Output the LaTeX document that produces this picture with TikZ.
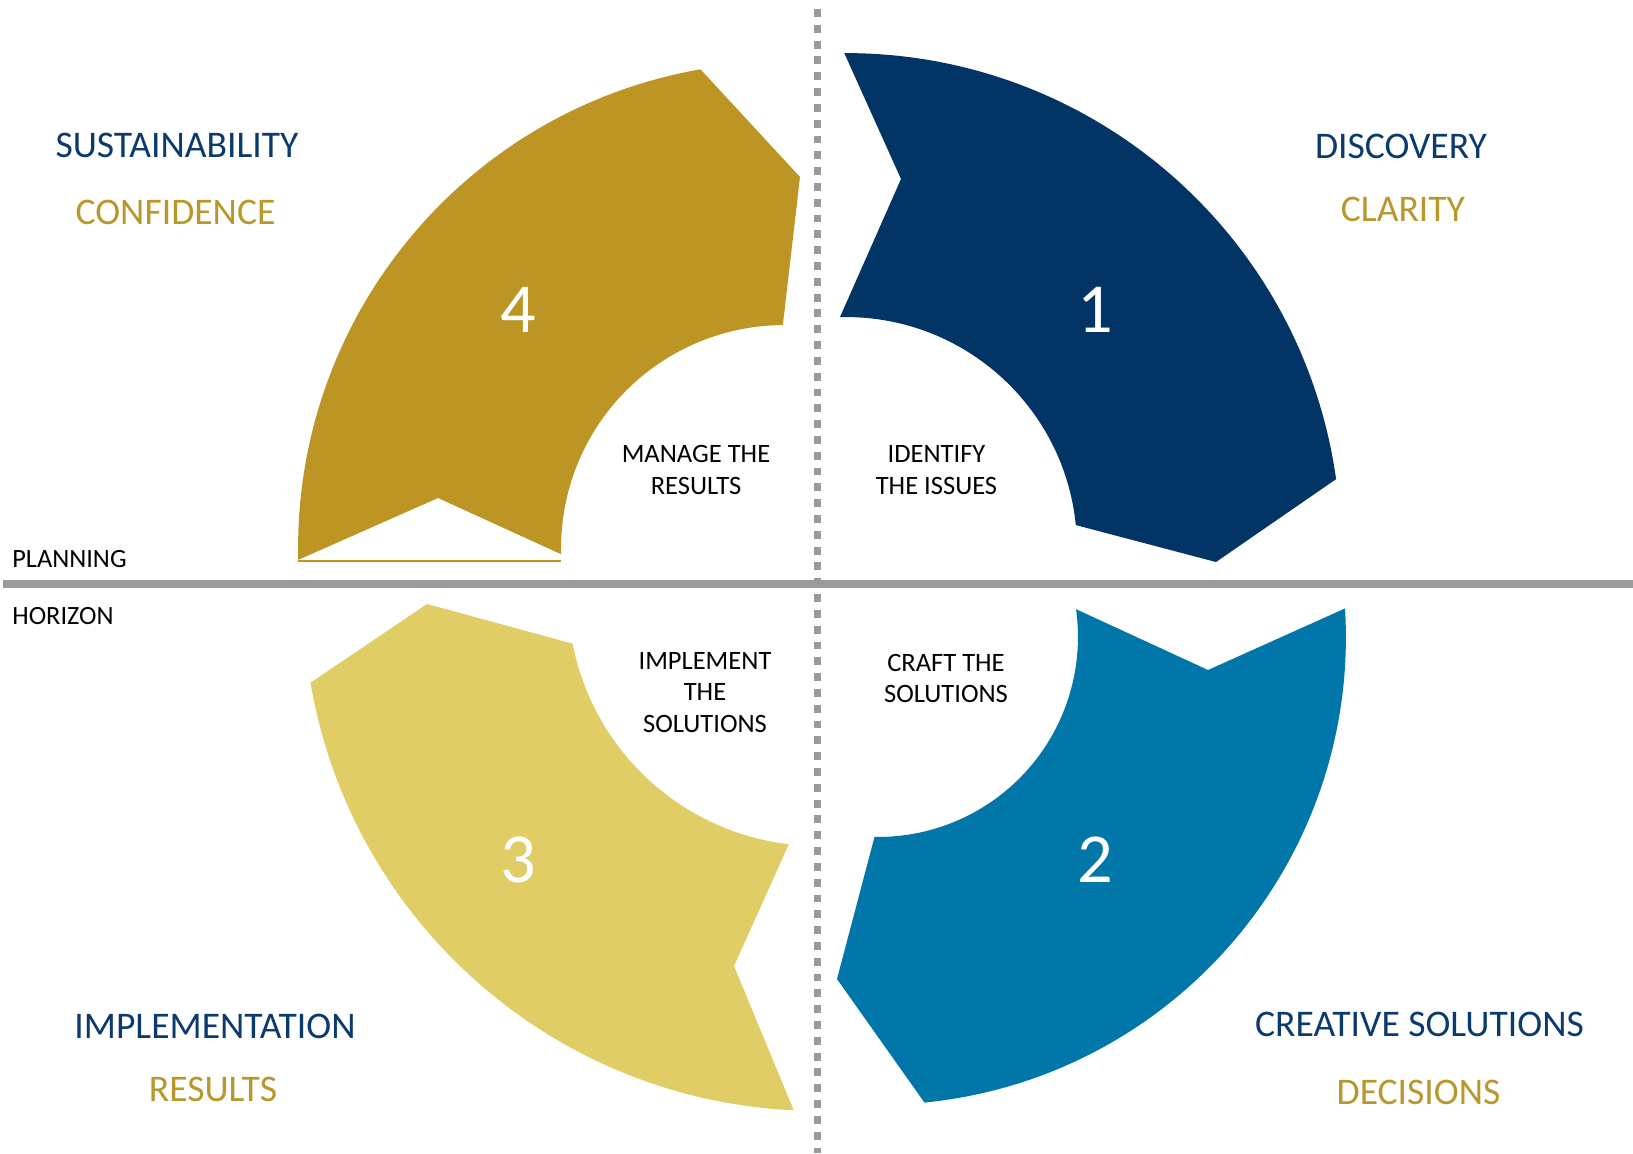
\documentclass[tikz,border=0pt]{standalone}
\usepackage{fontspec}
\setmainfont{Carlito}
\usetikzlibrary{calc}

\definecolor{phasenavy}{HTML}{033466}
\definecolor{phaseteal}{HTML}{0077A8}
\definecolor{phasegold}{HTML}{BC9524}
\definecolor{phasesand}{HTML}{E1CD66}
\definecolor{textnavy}{HTML}{0B3A6E}
\definecolor{textgold}{HTML}{B8982A}
\definecolor{rulegray}{HTML}{9A9A9A}

\tikzset{
  biglab/.style={font=\fontsize{21.4}{25}\selectfont, inner sep=0pt},
  innerlab/.style={font=\fontsize{15.1}{17.8}\selectfont, inner sep=0pt, align=center, text=black},
  sidelab/.style={font=\fontsize{15}{18}\selectfont, inner sep=0pt, anchor=west, text=black},
  numlab/.style={font=\fontsize{40}{44}\selectfont, inner sep=0pt, text=white},
  horizonrule/.style={draw=rulegray, line width=4pt},
  quarterrule/.style={draw=rulegray, line width=4.5pt, dash pattern=on 4.5pt off 4.5pt}
}

\begin{document}
% one unit = one pixel of a 1633 x 1153 canvas, y running downwards
\begin{tikzpicture}[x=0.02cm, y=0.02cm, yscale=-1]
\useasboundingbox (0,0) rectangle (1633,1153);
\fill[white] (0,0) rectangle (1633,1153);

% quadrant rules
\coordinate (hl) at (3,584);
\coordinate (hr) at (1633,584);
\coordinate (vt) at (817.5,9);
\coordinate (vb) at (817.5,1153);
\draw[horizonrule] (hl) -- (hr);
\draw[quarterrule] (vt) -- (vb);

% ring centres
\coordinate (c1) at (846,548);
\coordinate (c2) at (878,637);
\coordinate (c3) at (818,596);
\coordinate (c4) at (784,548);

% arrow tips and notches
\coordinate (t1) at (1216,562);
\coordinate (n1) at (901,179);
\coordinate (t2) at (837,979);
\coordinate (n2) at (1208,670);
\coordinate (t3) at (427,604);
\coordinate (n3) at (734,966);
\coordinate (t4) at (800,177);
\coordinate (n4) at (438,498);

% phase 1
\fill[phasenavy] ($(c1)+(-91.5:4.62cm)$) arc[start angle=-91.5, end angle=-5.7, radius=4.62cm]
  -- (t1) -- ($(c1)+(-8:9.9cm)$) arc[start angle=-8, end angle=-90.2, radius=9.9cm]
  -- (n1) -- cycle;

% phase 2
\fill[phaseteal] ($(c2)+(-3.5:9.36cm)$) arc[start angle=-3.5, end angle=84.3, radius=9.36cm]
  -- (t2) -- ($(c2)+(91:4cm)$) arc[start angle=91, end angle=-8, radius=4cm]
  -- (n2) -- cycle;

% phase 3
\fill[phasesand] ($(c3)+(170.3:10.3cm)$) -- (t3) -- ($(c3)+(169:5cm)$)
  arc[start angle=169, end angle=96.7, radius=5cm]
  -- (n3) -- ($(c3)+(92.7:10.3cm)$) arc[start angle=92.7, end angle=170.3, radius=10.3cm]
  -- cycle;

% phase 4
\fill[phasegold] ($(c4)+(178.6:9.72cm)$) -- (n4) -- ($(c4)+(178.4:4.46cm)$)
  arc[start angle=178.4, end angle=269.7, radius=4.46cm]
  -- (t4) -- ($(c4)+(260.1:9.72cm)$) arc[start angle=260.1, end angle=178.6, radius=9.72cm]
  -- cycle;
\coordinate (b4l) at (298,561);
\coordinate (b4r) at (561,561);
\draw[phasegold, line width=1pt] (b4l) -- (b4r);

% step numbers
\node[numlab] (num1) at (1095,310) {1};
\node[numlab] (num2) at (1095,860) {2};
\node[numlab] (num3) at (518,860) {3};
\node[numlab] (num4) at (518,310) {4};

% centre labels
\node[innerlab] (manage) at (696,470) {MANAGE THE\\RESULTS};
\node[innerlab] (identify) at (936.5,470) {IDENTIFY\\THE ISSUES};
\node[innerlab] (implement) at (705,692.5) {IMPLEMENT\\THE\\SOLUTIONS};
\node[innerlab] (craft) at (946,678.5) {CRAFT THE\\SOLUTIONS};

% corner labels
\node[biglab, text=textnavy] (sus) at (177,145) {SUSTAINABILITY};
\node[biglab, text=textgold] (conf) at (175.5,212) {CONFIDENCE};
\node[biglab, text=textnavy] (disc) at (1401,146) {DISCOVERY};
\node[biglab, text=textgold] (clar) at (1403,209) {CLARITY};
\node[biglab, text=textnavy] (impl) at (215,1026) {IMPLEMENTATION};
\node[biglab, text=textgold] (res) at (213,1089) {RESULTS};
\node[biglab, text=textnavy] (crea) at (1419.5,1024.5) {CREATIVE SOLUTIONS};
\node[biglab, text=textgold] (deci) at (1418.5,1092.5) {DECISIONS};

% horizon labels
\node[sidelab] (plan) at (12,559) {PLANNING};
\node[sidelab] (hori) at (12,616) {HORIZON};
\end{tikzpicture}
\end{document}
